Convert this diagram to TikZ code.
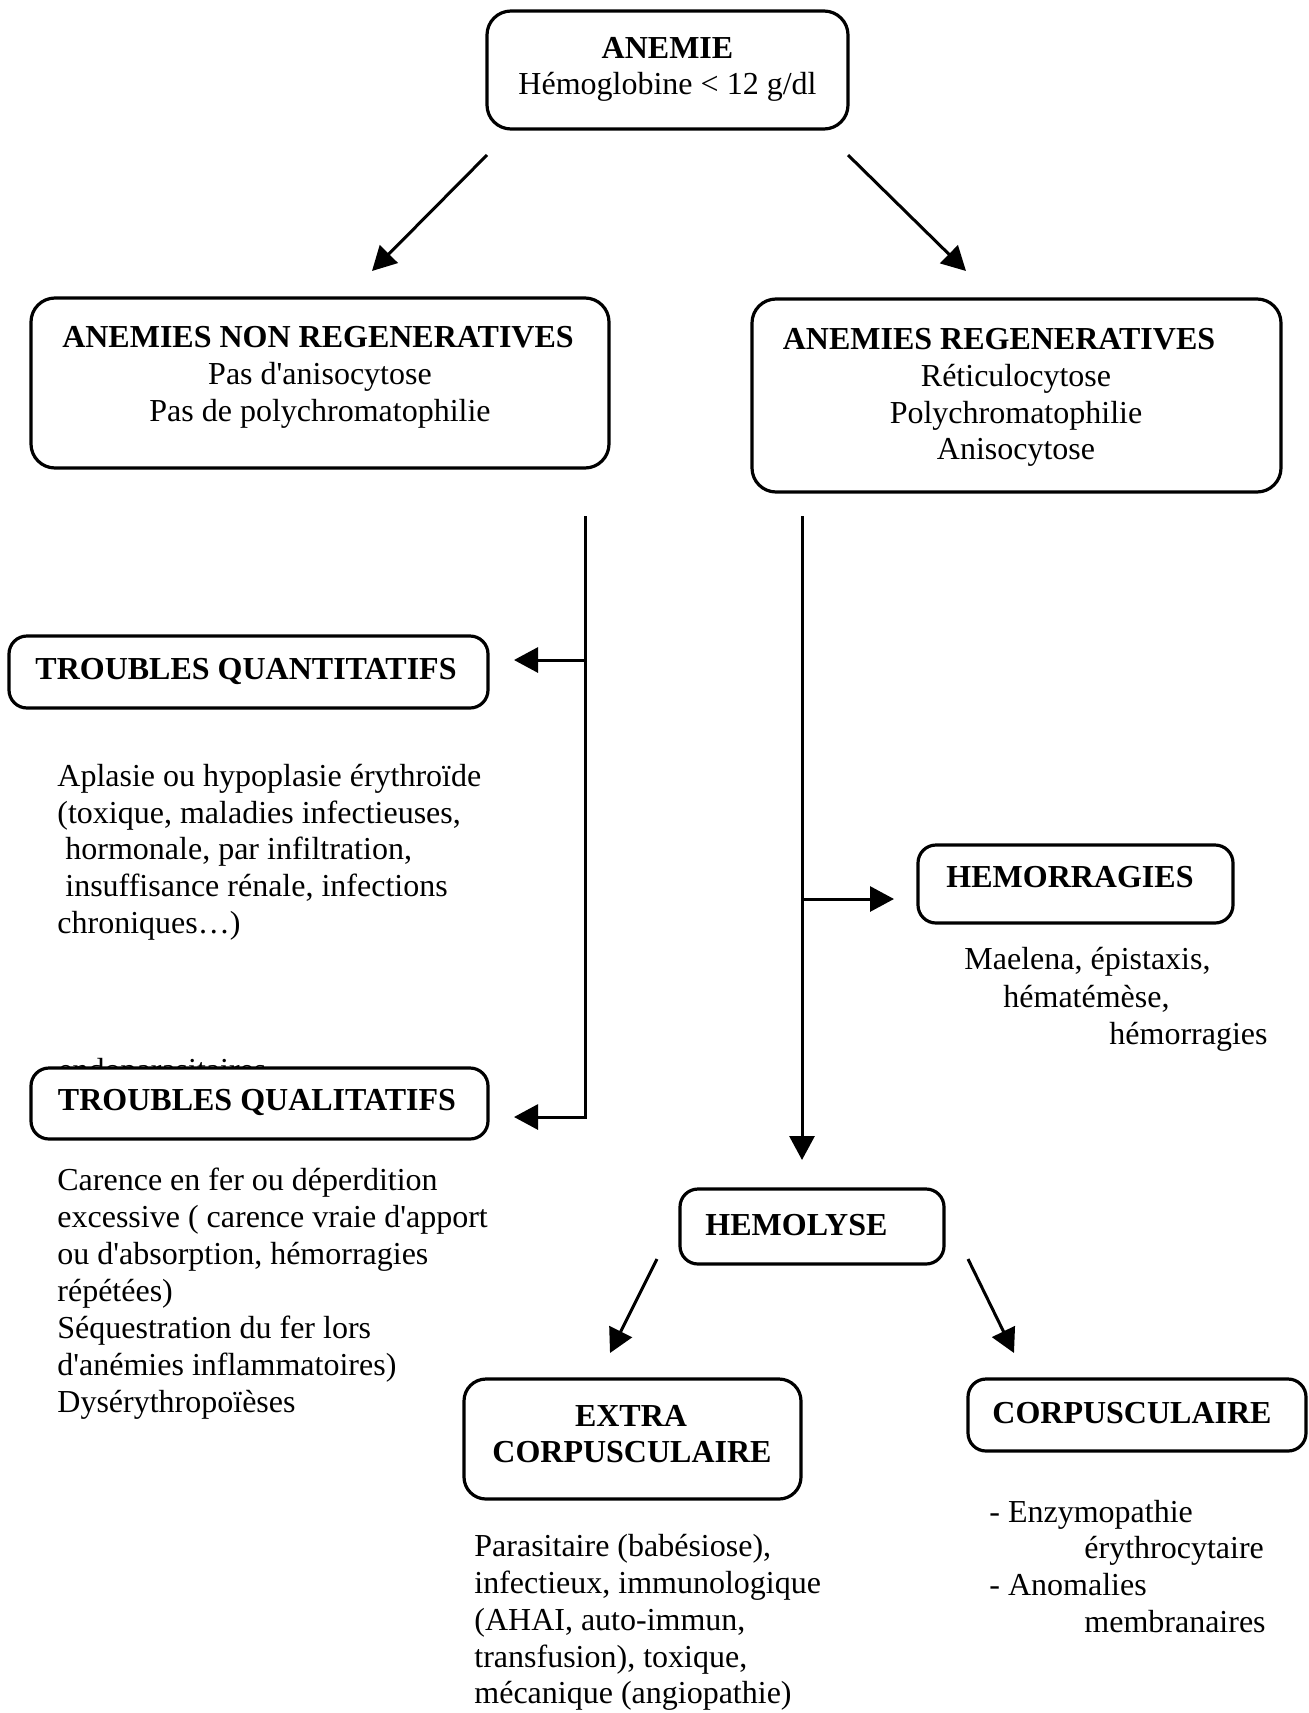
\documentclass[tikz,border=0pt]{standalone}
\usepackage{fontspec}
\setmainfont{Liberation Serif}[Ligatures=TeXOff]
\usetikzlibrary{arrows.meta}
\begin{document}
\begin{tikzpicture}[x=0.5pt,y=-0.5pt,
  box/.style={draw, line width=1.6pt, rounded corners=9pt, fill=white, inner sep=0pt},
  arr/.style={line width=1.5pt, -{Triangle[length=12pt,width=12.5pt]}},
  lbl/.style={inner sep=0pt, font=\fontsize{16pt}{18.5pt}\selectfont},
  ttl/.style={inner sep=0pt, font=\fontsize{16pt}{18.5pt}\selectfont\bfseries},
]
\useasboundingbox (0,0) rectangle (1308,1713);

% hidden text partly covered by the box
\node[lbl, anchor=base west] (hidden) at (58,1080) {endoparasitaires};

% boxes
\node[box, rounded corners=12pt, minimum width=180.5pt, minimum height=59pt] (anemie) at (667.5,70) {};
\node[box, rounded corners=12pt, minimum width=289pt, minimum height=85pt] (anr) at (320,383) {};
\node[box, rounded corners=12pt, minimum width=264.5pt, minimum height=96.5pt] (ar) at (1016.5,395.5) {};
\node[box, minimum width=239.5pt, minimum height=36pt] (tquant) at (248.5,672) {};
\node[box, minimum width=228.5pt, minimum height=35.5pt] (tqual) at (259.5,1103.5) {};
\node[box, minimum width=157.5pt, minimum height=39pt] (hemor) at (1075.5,884) {};
\node[box, minimum width=132pt, minimum height=37.5pt] (hemol) at (812,1226.5) {};
\node[box, rounded corners=11pt, minimum width=168.5pt, minimum height=60pt] (extra) at (632.5,1439) {};
\node[box, minimum width=169pt, minimum height=36pt] (corp) at (1137,1415) {};

% texts in boxes
\node[ttl, anchor=base] (anemieT) at (667.5,58) {ANEMIE};
\node[lbl, anchor=base] (anemieS) at (667.5,94) {Hémoglobine < 12 g/dl};

\node[ttl, anchor=base] (anrT) at (318,347) {ANEMIES NON REGENERATIVES};
\node[lbl, anchor=base] (anrS1) at (320,384) {Pas d'anisocytose};
\node[lbl, anchor=base] (anrS2) at (320,421) {Pas de polychromatophilie};

\node[ttl, anchor=base] (arT) at (999,349) {ANEMIES REGENERATIVES};
\node[lbl, anchor=base] (arS1) at (1016,386) {Réticulocytose};
\node[lbl, anchor=base] (arS2) at (1016,423) {Polychromatophilie};
\node[lbl, anchor=base] (arS3) at (1016,459) {Anisocytose};

\node[ttl, anchor=base] (tquantT) at (246,679) {TROUBLES QUANTITATIFS};
\node[ttl, anchor=base] (tqualT) at (257,1110) {TROUBLES QUALITATIFS};
\node[ttl, anchor=base west] (hemorT) at (946,887) {HEMORRAGIES};
\node[ttl, anchor=base west] (hemolT) at (705,1235) {HEMOLYSE};
\node[ttl, anchor=base] (extraT1) at (631,1426) {EXTRA};
\node[ttl, anchor=base] (extraT2) at (632,1462) {CORPUSCULAIRE};
\node[ttl, anchor=base] (corpT) at (1132,1423) {CORPUSCULAIRE};

% free texts
\node[lbl, anchor=base west] (ap1) at (57,786) {Aplasie ou hypoplasie érythroïde};
\node[lbl, anchor=base west] (ap2) at (57,823) {(toxique, maladies infectieuses,};
\node[lbl, anchor=base west] (ap3) at (65,859) {hormonale, par infiltration,};
\node[lbl, anchor=base west] (ap4) at (65,896) {insuffisance rénale, infections};
\node[lbl, anchor=base west] (ap5) at (57,933) {chroniques…)};

\node[lbl, anchor=base west] (ca1) at (57,1190) {Carence en fer ou déperdition};
\node[lbl, anchor=base west] (ca2) at (57,1227) {excessive ( carence vraie d'apport};
\node[lbl, anchor=base west] (ca3) at (57,1264) {ou d'absorption, hémorragies};
\node[lbl, anchor=base west] (ca4) at (57,1301) {répétées)};
\node[lbl, anchor=base west] (ca5) at (57,1338) {Séquestration du fer lors};
\node[lbl, anchor=base west] (ca6) at (57,1375) {d'anémies inflammatoires)};
\node[lbl, anchor=base west] (ca7) at (57,1412) {Dysérythropoïèses};

\node[lbl, anchor=base west] (ma1) at (964,969) {Maelena, épistaxis,};
\node[lbl, anchor=base west] (ma2) at (1003,1007) {hématémèse,};
\node[lbl, anchor=base west] (ma3) at (1109,1044) {hémorragies};

\node[lbl, anchor=base west] (pa1) at (474,1556) {Parasitaire (babésiose),};
\node[lbl, anchor=base west] (pa2) at (474,1593) {infectieux, immunologique};
\node[lbl, anchor=base west] (pa3) at (474,1630) {(AHAI, auto-immun,};
\node[lbl, anchor=base west] (pa4) at (474,1667) {transfusion), toxique,};
\node[lbl, anchor=base west] (pa5) at (474,1703) {mécanique (angiopathie)};

\node[lbl, anchor=base west] (en1) at (989,1522) {- Enzymopathie};
\node[lbl, anchor=base west] (en2) at (1084,1558) {érythrocytaire};
\node[lbl, anchor=base west] (en3) at (989,1595) {- Anomalies};
\node[lbl, anchor=base west] (en4) at (1084,1632) {membranaires};

% connector points
\coordinate (s1) at (487,155);  \coordinate (e1) at (372,271);
\coordinate (s2) at (848,155);  \coordinate (e2) at (966,271);
\coordinate (lt) at (585,516);  \coordinate (lq) at (585,660);
\coordinate (lqt) at (514,660); \coordinate (lbt) at (514,1117);
\coordinate (rt) at (802,516);  \coordinate (rb) at (802,1160);
\coordinate (rh) at (802,899);  \coordinate (rht) at (894,899);
\coordinate (s3) at (657,1259); \coordinate (e3) at (610,1353);
\coordinate (s4) at (968,1259); \coordinate (e4) at (1014,1353);

\draw[arr] (s1) -- (e1);
\draw[arr] (s2) -- (e2);
\draw[arr] (lt) |- (lbt);
\draw[arr] (lq) -- (lqt);
\draw[arr] (rt) -- (rb);
\draw[arr] (rh) -- (rht);
\draw[arr] (s3) -- (e3);
\draw[arr] (s4) -- (e4);
\end{tikzpicture}
\end{document}
